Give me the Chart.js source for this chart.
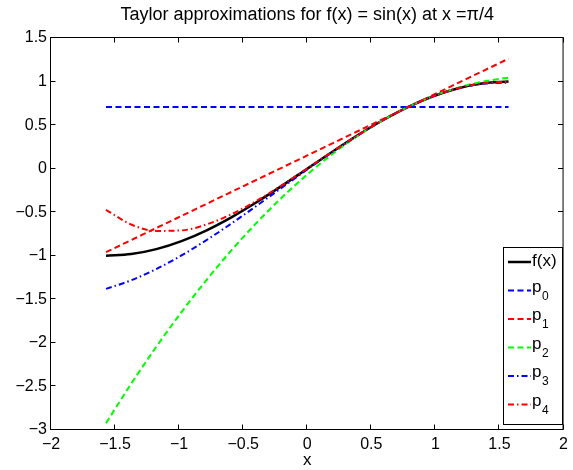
<!DOCTYPE html>
<html>
<head>
<meta charset="utf-8">
<script src="https://cdn.jsdelivr.net/npm/chart.js@4"></script>
<style>
  html, body { margin: 0; padding: 0; background: #fff; }
  #wrap { width: 573px; height: 470px; }
</style>
</head>
<body>
<div id="wrap"><canvas id="taylorChart" width="573" height="470"></canvas></div>
<script>
// --- DATA ---
const TITLE = 'Taylor approximations for f(x) = sin(x) at x =\u03c0/4';
const xs = [-1.5708, -1.3744, -1.1781, -0.9817, -0.7854, -0.5890, -0.3927, -0.1963, 0,
            0.1963, 0.3927, 0.5890, 0.7854, 0.9817, 1.1781, 1.3744, 1.5708];
const fVals  = [-1, -0.9808, -0.9239, -0.8315, -0.7071, -0.5556, -0.3827, -0.1951, 0,
                0.1951, 0.3827, 0.5556, 0.7071, 0.8315, 0.9239, 0.9808, 1];
const p0Vals = [0.7071, 0.7071, 0.7071, 0.7071, 0.7071, 0.7071, 0.7071, 0.7071, 0.7071,
                0.7071, 0.7071, 0.7071, 0.7071, 0.7071, 0.7071, 0.7071, 0.7071];
const p1Vals = [-0.9590, -0.8201, -0.6813, -0.5424, -0.4036, -0.2647, -0.1259, 0.0129, 0.1517,
                0.2906, 0.4294, 0.5683, 0.7071, 0.8459, 0.9848, 1.1236, 1.2625];
const p2Vals = [-2.9218, -2.4694, -2.0444, -1.6464, -1.2760, -0.9326, -0.6167, -0.3278, -0.0663,
                0.1679, 0.3749, 0.5547, 0.7071, 0.8323, 0.9303, 1.0009, 1.0444];
const p3Vals = [-1.3801, -1.2820, -1.1522, -0.9961, -0.8192, -0.6266, -0.4240, -0.2163, -0.0092,
                0.1920, 0.3820, 0.5556, 0.7071, 0.8314, 0.9231, 0.9768, 0.9873];
const p4Vals = [-0.4721, -0.6409, -0.7143, -0.7088, -0.6398, -0.5215, -0.3672, -0.1889, 0.0021,
                0.1956, 0.3828, 0.5556, 0.7071, 0.8315, 0.9238, 0.9803, 0.9985];
const xTicks = [-2, -1.5, -1, -0.5, 0, 0.5, 1, 1.5, 2];
const yTicks = [-3, -2.5, -2, -1.5, -1, -0.5, 0, 0.5, 1, 1.5];
const seriesNames = ['f(x)', 'p0', 'p1', 'p2', 'p3', 'p4'];

// --- STYLE ---
const FONT = '"Liberation Sans", Arial, Helvetica, sans-serif';
const DASH = [6, 3.5];
const DASHDOT = [6, 3, 1.5, 3];

function pts(vals) {
    return vals.map((y, i) => ({ x: xs[i], y: y }));
}

function minusSign(v) {
    return String(v).replace('-', '\u2212');
}

const seriesStyle = [
    { color: '#000000', dash: [], width: 2.5 },
    { color: '#0000ff', dash: DASH, width: 2 },
    { color: '#ff0000', dash: DASH, width: 2 },
    { color: '#00ff00', dash: DASH, width: 2 },
    { color: '#0000ff', dash: DASHDOT, width: 2 },
    { color: '#ff0000', dash: DASHDOT, width: 2 }
];
const seriesData = [fVals, p0Vals, p1Vals, p2Vals, p3Vals, p4Vals];

// --- FRAME / TITLE / LEGEND (matlab look) ---
const framePlugin = {
    id: 'frame',
    afterDraw(chart) {
        const { ctx, chartArea: a, scales } = chart;
        const L = a.left - 0.5, R = a.right - 0.5, T = a.top - 0.5, B = a.bottom - 0.5;
        ctx.save();
        ctx.strokeStyle = '#000';
        ctx.lineWidth = 1;
        ctx.setLineDash([]);
        ctx.strokeRect(L, T, R - L, B - T);

        // inward ticks on all four sides
        ctx.beginPath();
        xTicks.forEach(v => {
            const px = Math.round(scales.x.getPixelForValue(v)) - 0.5;
            ctx.moveTo(px, B); ctx.lineTo(px, B - 5);
            ctx.moveTo(px, T); ctx.lineTo(px, T + 5);
        });
        yTicks.forEach(v => {
            const py = Math.round(scales.y.getPixelForValue(v)) - 0.5;
            ctx.moveTo(L, py); ctx.lineTo(L + 5, py);
            ctx.moveTo(R, py); ctx.lineTo(R - 5, py);
        });
        ctx.stroke();

        // title and x label
        ctx.fillStyle = '#000';
        ctx.textAlign = 'center';
        ctx.textBaseline = 'middle';
        ctx.font = '18px ' + FONT;
        ctx.fillText(TITLE, (a.left + a.right) / 2, 15);
        ctx.font = '17px ' + FONT;
        ctx.fillText('x', (a.left + a.right) / 2, 460);

        // legend box
        const bx = 503, by = 247, bw = 60, bh = 178;
        ctx.fillStyle = '#fff';
        ctx.fillRect(bx, by, bw, bh);
        ctx.strokeRect(bx + 0.5, by + 0.5, bw - 1, bh - 1);
        seriesNames.forEach((name, i) => {
            const st = seriesStyle[i];
            const ry = 262 + i * 28.5;
            ctx.beginPath();
            ctx.strokeStyle = st.color;
            ctx.lineWidth = st.width;
            ctx.setLineDash(st.dash);
            ctx.moveTo(508, ry); ctx.lineTo(531, ry);
            ctx.stroke();
            ctx.setLineDash([]);
            ctx.fillStyle = '#000';
            ctx.textAlign = 'left';
            ctx.textBaseline = 'alphabetic';
            if (i === 0) {
                ctx.font = '17px ' + FONT;
                ctx.fillText(name, 532, ry + 4);
            } else {
                ctx.font = '17px ' + FONT;
                ctx.fillText('p', 532, ry + 1);
                ctx.font = '12px ' + FONT;
                ctx.fillText(name.slice(1), 542, ry + 9);
            }
        });
        ctx.restore();
    }
};

function renderChart() {
    const ctx = document.getElementById('taylorChart').getContext('2d');
    new Chart(ctx, {
        type: 'line',
        data: {
            datasets: seriesData.map((vals, i) => ({
                label: seriesNames[i],
                data: pts(vals),
                borderColor: seriesStyle[i].color,
                borderDash: seriesStyle[i].dash,
                borderWidth: seriesStyle[i].width,
                pointRadius: 0,
                fill: false,
                cubicInterpolationMode: 'monotone',
                order: seriesNames.length - i
            }))
        },
        options: {
            responsive: false,
            animation: false,
            layout: { padding: { top: 38, right: 5, left: 0, bottom: 0 } },
            plugins: { legend: { display: false }, tooltip: { enabled: false }, title: { display: false } },
            scales: {
                x: {
                    type: 'linear', min: -2, max: 2,
                    afterBuildTicks: s => { s.ticks = xTicks.map(v => ({ value: v })); },
                    afterFit: s => { s.height = 40; },
                    grid: { display: false, drawTicks: false },
                    border: { display: false },
                    ticks: { color: '#000', padding: 5, maxRotation: 0, autoSkip: false,
                             font: { family: FONT, size: 16 }, callback: minusSign }
                },
                y: {
                    type: 'linear', min: -3, max: 1.5,
                    afterBuildTicks: s => { s.ticks = yTicks.map(v => ({ value: v })); },
                    afterFit: s => { s.width = 51; },
                    grid: { display: false, drawTicks: false },
                    border: { display: false },
                    ticks: { color: '#000', padding: 4, autoSkip: false,
                             font: { family: FONT, size: 16 }, callback: minusSign }
                }
            }
        },
        plugins: [framePlugin]
    });
}

window.onload = renderChart;
</script>
</body>
</html>
